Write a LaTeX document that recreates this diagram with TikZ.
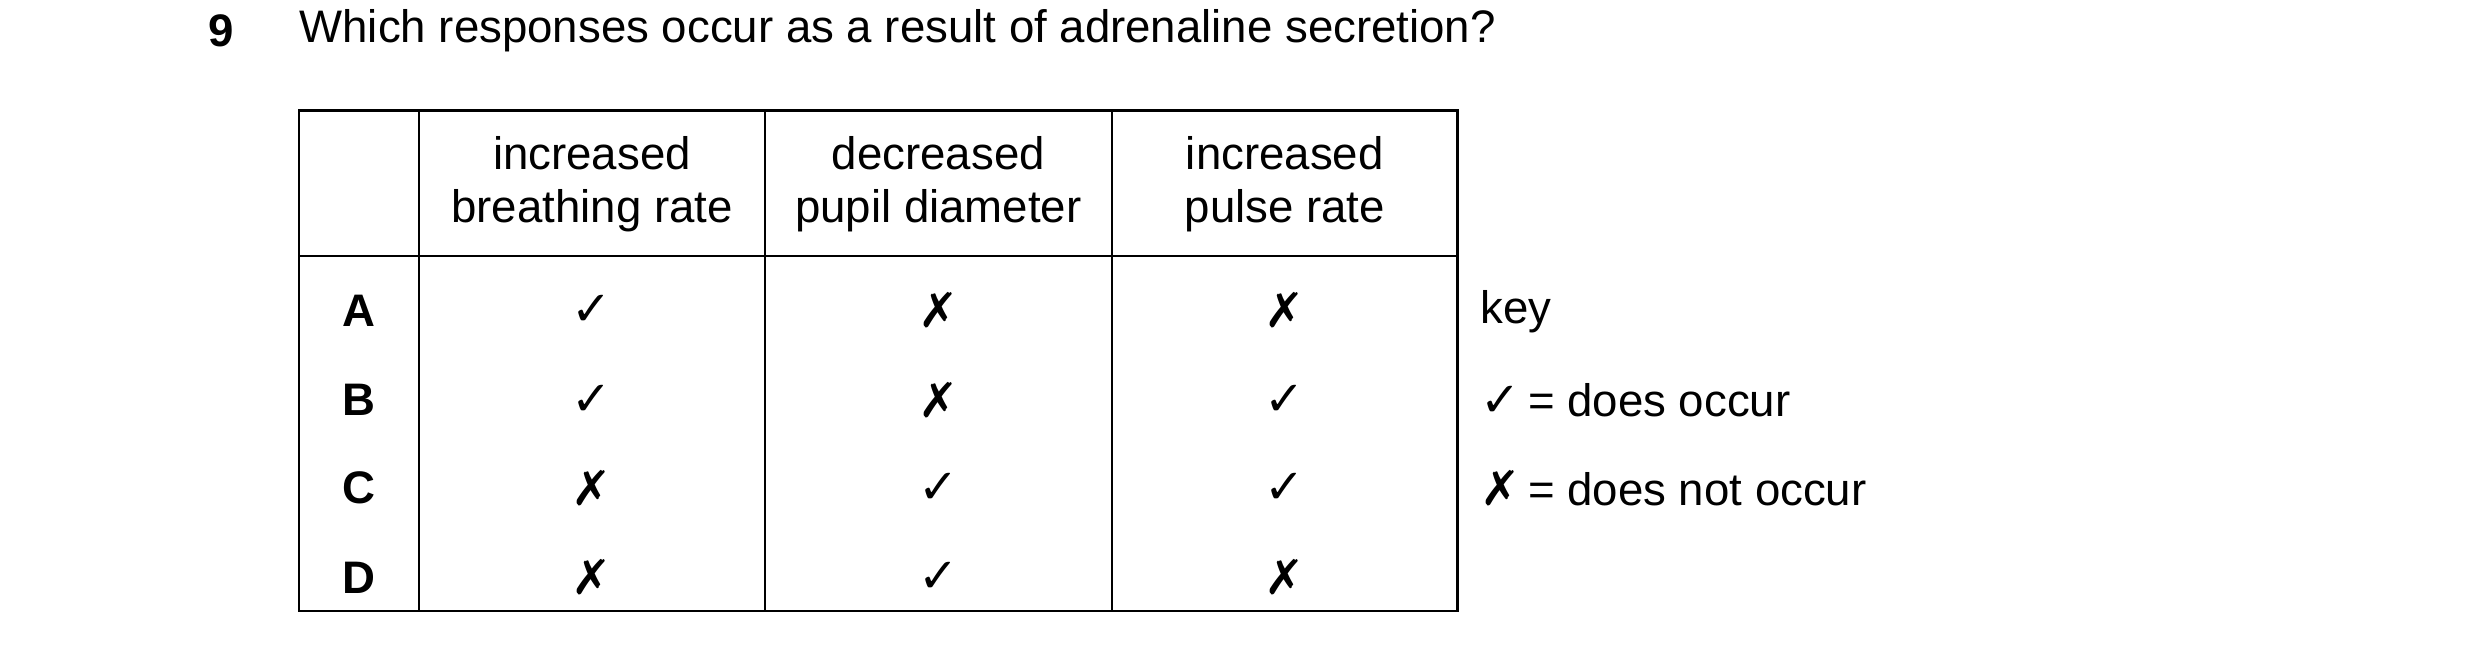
\documentclass[tikz,border=0pt]{standalone}
\usepackage{fontspec}
\setmainfont{Liberation Sans}
\newfontfamily\symf{DejaVu Sans}
\newcommand{\yes}{{\symf ✓}}
\newcommand{\no}{{\symf ✗}}
\begin{document}
\begin{tikzpicture}[x=1pt,y=-1pt,
  txt/.style={font=\fontsize{28.5}{33}\selectfont, inner sep=0pt},
  hd/.style={txt, align=center},
  lab/.style={txt, font=\fontsize{28.5}{33}\selectfont\bfseries},
  mk/.style={font=\fontsize{30}{33}\selectfont, inner sep=0pt},
  grid/.style={line width=1.5pt}]
\useasboundingbox (0,0) rectangle (1550,404);
\node[lab] (q) at (138,19) {9};
\node[txt, anchor=west] (title) at (187,19) {Which responses occur as a result of adrenaline secretion?};
\draw[grid] (187,69) rectangle (911,382);
\draw[grid] (187,160) -- (911,160);
\foreach \x in {262,478,695} \draw[grid] (\x,69) -- (\x,382);
\node[hd] (h1) at (370,115) {increased\\breathing rate};
\node[hd] (h2) at (586.5,115) {decreased\\pupil diameter};
\node[hd] (h3) at (803,115) {increased\\pulse rate};
\foreach \r/\y/\a/\b/\c in {A/194/\yes/\no/\no, B/250/\yes/\no/\yes, C/305/\no/\yes/\yes, D/361/\no/\yes/\no}{
  \node[lab] (r\r) at (224.5,\y) {\r};
  \node[mk] (c1\r) at (370,\y) {\a};
  \node[mk] (c2\r) at (586.5,\y) {\b};
  \node[mk] (c3\r) at (803,\y) {\c};
}
\node[txt, anchor=west] (k0) at (925,195) {key};
\node[txt, anchor=west] (k1) at (925,250) {{\fontsize{30}{33}\selectfont\yes}\,= does occur};
\node[txt, anchor=west] (k2) at (925,305) {{\fontsize{30}{33}\selectfont\no}\,= does not occur};
\end{tikzpicture}
\end{document}
